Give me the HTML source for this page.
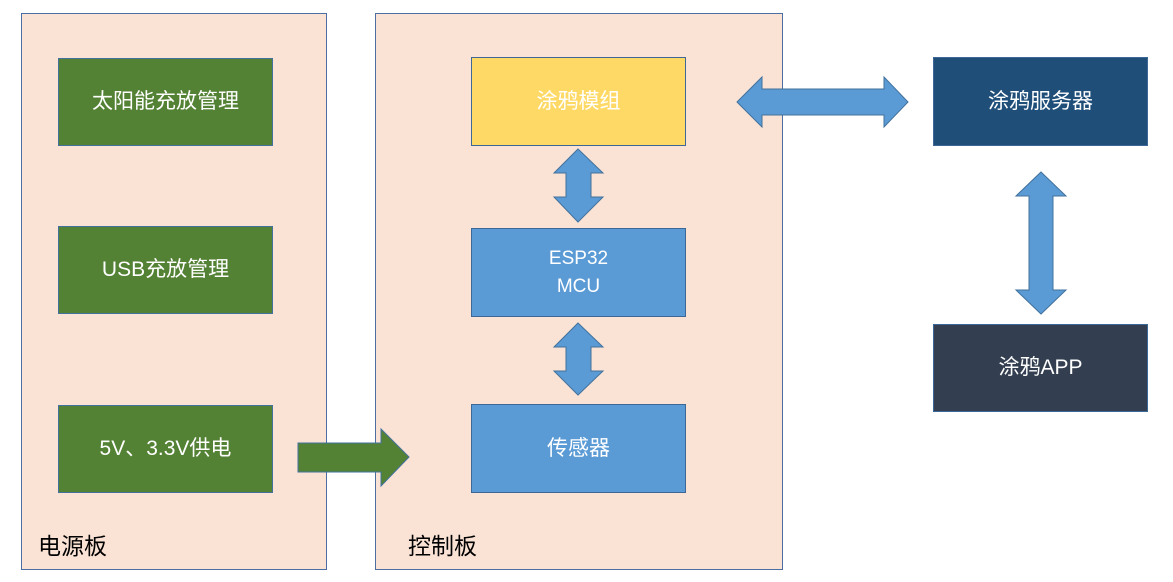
<!DOCTYPE html>
<html><head><meta charset="utf-8"><style>
body{margin:0;width:1173px;height:582px;background:#fff;position:relative;overflow:hidden;font-family:"Liberation Sans","Noto Sans CJK SC",sans-serif}
.p{position:absolute;background:#fae3d5;border:1px solid #4a6fa0;box-sizing:border-box}
.b{position:absolute;box-sizing:border-box;border:1.5px solid #3d6796;color:#fff;display:flex;align-items:center;justify-content:center;text-align:center;font-size:21px;line-height:28px}
.g{background:#548235;border-color:#41719c}
.bl{background:#5b9bd5}
.lbl{position:absolute;font-size:23px;color:#000}
svg{position:absolute;left:0;top:0}
</style></head><body>
<div class="p" style="left:21px;top:13px;width:306px;height:557px"></div>
<div class="p" style="left:375px;top:13px;width:408px;height:557px"></div>
<div class="b g" style="left:58px;top:58px;width:215px;height:88px">太阳能充放管理</div>
<div class="b g" style="left:58px;top:226px;width:215px;height:88px">USB充放管理</div>
<div class="b g" style="left:58px;top:405px;width:215px;height:88px">5V、3.3V供电</div>
<div class="b" style="left:471px;top:57px;width:215px;height:89px;background:#ffd966">涂鸦模组</div>
<div class="b bl" style="left:471px;top:228px;width:215px;height:89px;font-size:19px">ESP32<br>MCU</div>
<div class="b bl" style="left:471px;top:404px;width:215px;height:89px">传感器</div>
<div class="b" style="left:933px;top:57px;width:215px;height:89px;background:#1f4e79">涂鸦服务器</div>
<div class="b" style="left:933px;top:324px;width:215px;height:88px;background:#333f50">涂鸦APP</div>
<div class="lbl" style="left:38px;top:527px">电源板</div>
<div class="lbl" style="left:408px;top:527px">控制板</div>
<svg width="1173" height="582">
<polygon points="298,443 381,443 381,429 409,457 381,486 381,472 298,472" fill="#548235" stroke="#41719c"/>
<g fill="#5b9bd5" stroke="#41719c">
<polygon points="737,102 762,77 762,89 884,89 884,77 908,102 884,127 884,115 762,115 762,127"/>
<polygon points="578,149 603,173 591,173 591,197 603,197 578,222 554,197 566,197 566,173 554,173"/>
<polygon points="578,323 603,347 591,347 591,371 603,371 578,395 554,371 566,371 566,347 554,347"/>
<polygon points="1041,172 1066,196 1053,196 1053,290 1066,290 1041,314 1016,290 1029,290 1029,196 1016,196"/>
</g>
</svg>
</body></html>
